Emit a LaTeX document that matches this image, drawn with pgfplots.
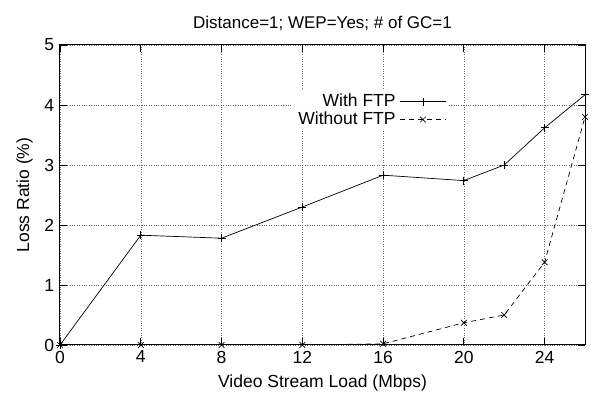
\documentclass[border=0pt]{standalone}
\usepackage{pgfplots}
\pgfplotsset{compat=1.18}
\usepackage{fontspec}
\setmainfont{Liberation Sans}
\begin{document}
\fontsize{17}{20}\selectfont
\begin{tikzpicture}
\begin{axis}[
  scale only axis,
  width=525pt, height=300pt,
  xmin=0, xmax=26, ymin=0, ymax=5,
  xtick={0,4,8,12,16,20,24},
  ytick={0,1,2,3,4,5},
  /pgf/number format/assume math mode=true,
  tick label style={font=\fontsize{17.5}{20}\selectfont},
  label style={font=\fontsize{17.5}{20}\selectfont},
  title style={font=\fontsize{17}{20}\selectfont, yshift=2pt},
  title={Distance=1; WEP=Yes; \# of GC=1},
  xlabel={Video Stream Load (Mbps)},
  ylabel={Loss Ratio (\%)},
  grid=major,
  grid style={dotted, black!60, line width=0.5pt},
  tick align=inside,
  major tick length=7pt,
  tick style={black, line width=0.7pt},
  axis line style={line width=1pt},
  legend plot pos=right,
  legend cell align=right,
  legend style={at={(0.74,0.85)}, anchor=north east, draw=none, fill=white,
    font=\fontsize{17.5}{18}\selectfont, row sep=-1.5pt, inner sep=2pt,
    nodes={inner xsep=4pt}},
  legend image code/.code={\draw[mark repeat=2,mark phase=2] plot coordinates {(0pt,0pt) (23pt,0pt) (46pt,0pt)};},
]
\addplot[black, line width=0.7pt, mark=+, mark size=4pt, mark options={solid}] coordinates {
(0,0) (4,1.83) (8,1.78) (12,2.30) (16,2.83) (20,2.74) (22,3.00) (24,3.62) (26,4.17)};
\addlegendentry{With FTP}
\addplot[black, line width=0.7pt, dash pattern=on 5pt off 4pt, mark=x, mark size=4pt, mark options={solid}] coordinates {
(0,0) (4,0) (8,0) (12,0) (16,0.02) (20,0.37) (22,0.50) (24,1.38) (26,3.80)};
\addlegendentry{Without FTP}
\end{axis}
\path (-60pt,-53pt) rectangle (545pt,345pt);
\end{tikzpicture}
\end{document}
